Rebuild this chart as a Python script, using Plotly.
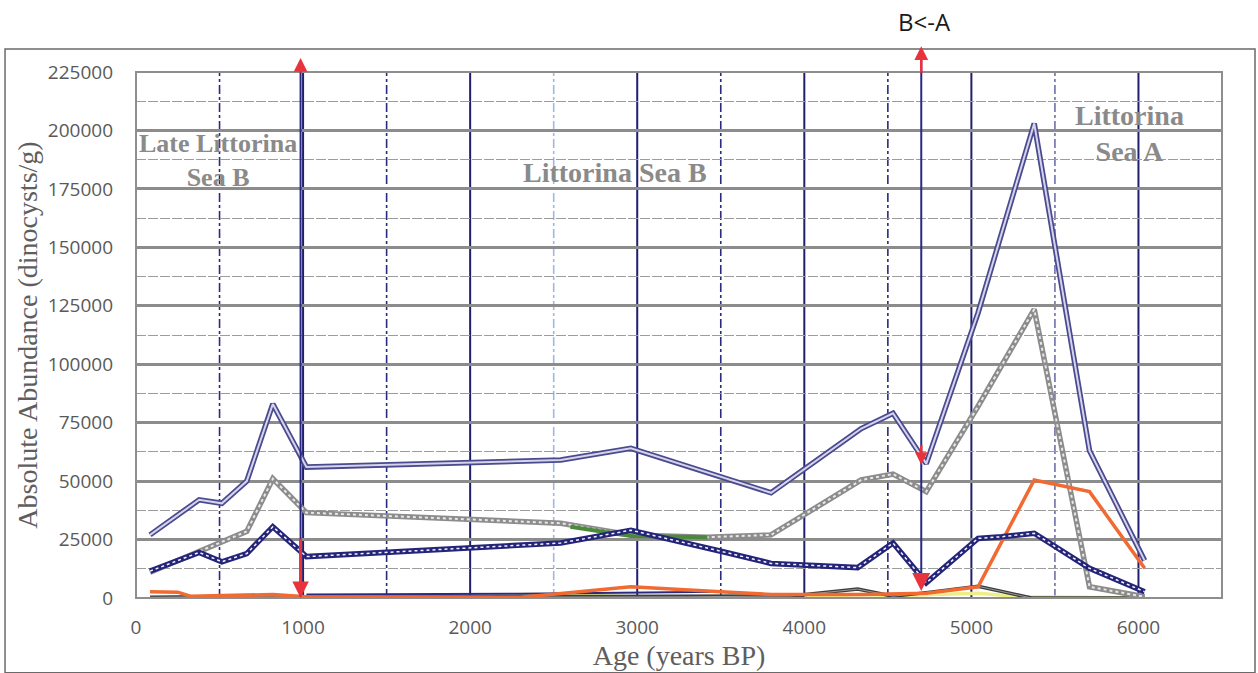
import plotly.graph_objects as go

# ---------------- data ----------------
age_total = [84, 378, 514, 663, 819, 1020, 2542, 2962, 3801, 4341, 4531, 4730, 5040, 5376, 5707, 6037]
total = [27000, 42000, 40500, 50000, 83000, 56000, 59000, 64000, 45000, 72500, 79000, 57500, 122000, 203000, 63000, 16000]

age_gray = [84, 378, 663, 819, 1020, 2542, 2962, 3420, 3801, 4341, 4531, 4730, 5040, 5376, 5707, 6037]
gray_vals = [11000, 20000, 28500, 51000, 36500, 32000, 27000, 26000, 27000, 50500, 53000, 45500, 82000, 123500, 4800, 500]

age_green = [2600, 2962, 3420]
green_vals = [30500, 26500, 26000]

age_navy = [84, 378, 514, 663, 819, 1020, 2542, 2962, 3501, 3801, 4320, 4531, 4730, 5040, 5180, 5376, 5707, 6037]
navy_vals = [11500, 19500, 15500, 19000, 30500, 17700, 23500, 29000, 20000, 14800, 13000, 23500, 6500, 25500, 26200, 27700, 12700, 2700]

age_orange = [84, 250, 330, 819, 1020, 2300, 2560, 2962, 3500, 3801, 4341, 4730, 5040, 5376, 5707, 6037]
orange_vals = [2700, 2500, 700, 1500, 500, 300, 2000, 4800, 2700, 1500, 1500, 2000, 4800, 50500, 45500, 12700]

age_black = [84, 819, 1020, 2962, 3300, 3921, 4320, 4531, 4730, 5040, 5360, 6037]
black_vals = [300, 800, 300, 500, 500, 900, 3800, 800, 2300, 5000, 0, 0]

age_yellow = [84, 2000, 2300, 2580, 3000, 4000, 4340, 4530, 5040, 5300, 6037]
yellow_vals = [200, 300, 1500, 1500, 300, 300, 1500, 1000, 2000, 500, 0]

age_low = [1020, 2300, 3500, 3801, 4000]
low_vals = [1500, 1800, 2700, 1500, 800]

x_ticks = [0, 1000, 2000, 3000, 4000, 5000, 6000]
y_ticks = [0, 25000, 50000, 75000, 100000, 125000, 150000, 175000, 200000, 225000]

solid_vlines = [1000, 2000, 3000, 4000, 5000, 6000]
dash_vlines = [500, 1500, 2500, 3500, 4500, 5500]
dash_vline_colors = ["#2a2a80", "#2a2a80", "#9db8e6", "#2a2a80", "#2a2a80", "#6e6eb0"]

boundaries = [985, 4700]

zones = ["<b>Late Littorina</b><br><b>Sea B</b>", "<b>Littorina Sea B</b>", "<b>Littorina</b><br><b>Sea A</b>"]
zone_x = [492, 2866, 5944]
zone_y = [187000, 181800, 198700]
zone_size = [26, 28, 28]

# ---------------- figure ----------------
fig = go.Figure()


def double_line(x, y, outer, inner, wo, wi, dash_inner="solid"):
    fig.add_trace(go.Scatter(x=x, y=y, mode="lines", line=dict(color=outer, width=wo),
                             hoverinfo="skip", showlegend=False))
    if inner:
        fig.add_trace(go.Scatter(x=x, y=y, mode="lines",
                                 line=dict(color=inner, width=wi, dash=dash_inner),
                                 hoverinfo="skip", showlegend=False))


double_line(age_yellow, yellow_vals, "#eeee88", None, 3.5, 0)
double_line(age_low, low_vals, "#2a2a80", None, 2, 0)
double_line(age_black, black_vals, "#3c3c3c", "#9a9a9a", 3.5, 1)
double_line(age_gray, gray_vals, "#8c8c8c", "#e8e8e8", 5.5, 2, "dot")
double_line(age_green, green_vals, "#4a8a3a", None, 4, 0)
double_line(age_orange, orange_vals, "#f06a32", None, 3.5, 0)
double_line(age_navy, navy_vals, "#24247a", "#f4f4fb", 5.5, 1.5, "dot")
double_line(age_total, total, "#4a4a8e", "#d6d3ec", 5.5, 2)

shapes = []
# vertical grid lines
for v in solid_vlines:
    shapes.append(dict(type="line", xref="x", yref="y", x0=v, x1=v, y0=0, y1=225000,
                       line=dict(color="#1f1f6e", width=2), layer="below"))
for v, c in zip(dash_vlines, dash_vline_colors):
    shapes.append(dict(type="line", xref="x", yref="y", x0=v, x1=v, y0=0, y1=225000,
                       line=dict(color=c, width=1.6, dash="dashdot"), layer="below"))
# plot border
shapes.append(dict(type="rect", xref="paper", yref="paper", x0=0, x1=1, y0=0, y1=1,
                   line=dict(color="#8e8e8e", width=2), layer="above"))
# outer chart frame
shapes.append(dict(type="rect", xref="paper", yref="paper", x0=-0.1206, x1=1.0304,
                   y0=-0.142, y1=1.0437, line=dict(color="#6a6a6a", width=1.5)))

annotations = []
# boundary arrows (navy shafts with red heads)
shaft_top = [229000, 234000]
shaft_bot = [0, 5000]
for bx, t, b in zip(boundaries, shaft_top, shaft_bot):
    annotations.append(dict(x=bx, y=t, ax=bx, ay=b, xref="x", yref="y", axref="x", ayref="y",
                            text="", showarrow=True, arrowhead=0, arrowwidth=2,
                            arrowcolor="#2a2a85", standoff=0, startstandoff=0))
    annotations.append(dict(x=bx, y=t + 2000, ax=bx, ay=224000, xref="x", yref="y",
                            axref="x", ayref="y", text="", showarrow=True, arrowhead=2,
                            arrowsize=1.1, arrowwidth=2.5, arrowcolor="#e8323c"))
annotations.append(dict(x=985, y=0, ax=985, ay=26000, xref="x", yref="y", axref="x", ayref="y",
                        text="", showarrow=True, arrowhead=2, arrowsize=1.1, arrowwidth=3,
                        arrowcolor="#e8323c"))
annotations.append(dict(x=4700, y=57000, ax=4700, ay=66000, xref="x", yref="y", axref="x",
                        ayref="y", text="", showarrow=True, arrowhead=2, arrowsize=1.0,
                        arrowwidth=2.5, arrowcolor="#e8323c"))
annotations.append(dict(x=4700, y=3000, ax=4700, ay=11000, xref="x", yref="y", axref="x",
                        ayref="y", text="", showarrow=True, arrowhead=2, arrowsize=1.2,
                        arrowwidth=3, arrowcolor="#e8323c"))

for t, zx, zy, zs in zip(zones, zone_x, zone_y, zone_size):
    annotations.append(dict(x=zx, y=zy, xref="x", yref="y", text=t, showarrow=False,
                            font=dict(family="Liberation Serif", size=zs, color="#8a8a8a"),
                            xanchor="center", yanchor="middle"))

annotations.append(dict(x=(924 - 136) / 1086, y=(598 - 22) / 526, xref="paper", yref="paper",
                        text="B<-A", showarrow=False, xanchor="center", yanchor="middle",
                        font=dict(family="Open Sans", size=24, color="#1a1a1a")))

fig.update_layout(
    width=1258, height=673, autosize=False,
    margin=dict(l=136, r=36, t=72, b=75, autoexpand=False),
    paper_bgcolor="white", plot_bgcolor="white",
    showlegend=False,
    shapes=shapes, annotations=annotations,
    font=dict(family="Open Sans", size=19, color="#595959"),
)
fig.update_xaxes(range=[0, 6500], tickvals=x_ticks, ticktext=[str(v) for v in x_ticks],
                 showgrid=False, zeroline=False, showline=False, ticks="", automargin=False,
                 ticklabelstandoff=16, tickfont=dict(family="Open Sans", size=19, color="#595959"),
                 title=dict(text="Age (years BP)", standoff=2,
                            font=dict(family="Liberation Serif", size=28, color="#5e5e5e")))
fig.update_yaxes(range=[0, 225000], tickvals=y_ticks, ticktext=[str(v) for v in y_ticks],
                 showgrid=True, gridcolor="#8c8c8c", gridwidth=2.5, zeroline=False,
                 showline=False, ticks="", ticklabelstandoff=22, automargin=False,
                 tickfont=dict(family="Open Sans", size=19, color="#595959"),
                 minor=dict(dtick=12500, tick0=0, showgrid=True, gridcolor="#9c9c9c",
                            gridwidth=1.3, griddash="10px,2px"),
                 title=dict(text="Absolute Abundance (dinocysts/g)", standoff=2,
                            font=dict(family="Liberation Serif", size=28, color="#5e5e5e")))

fig.write_html("out.html", config={"displayModeBar": False},
               post_script="document.body.style.margin='0';")
